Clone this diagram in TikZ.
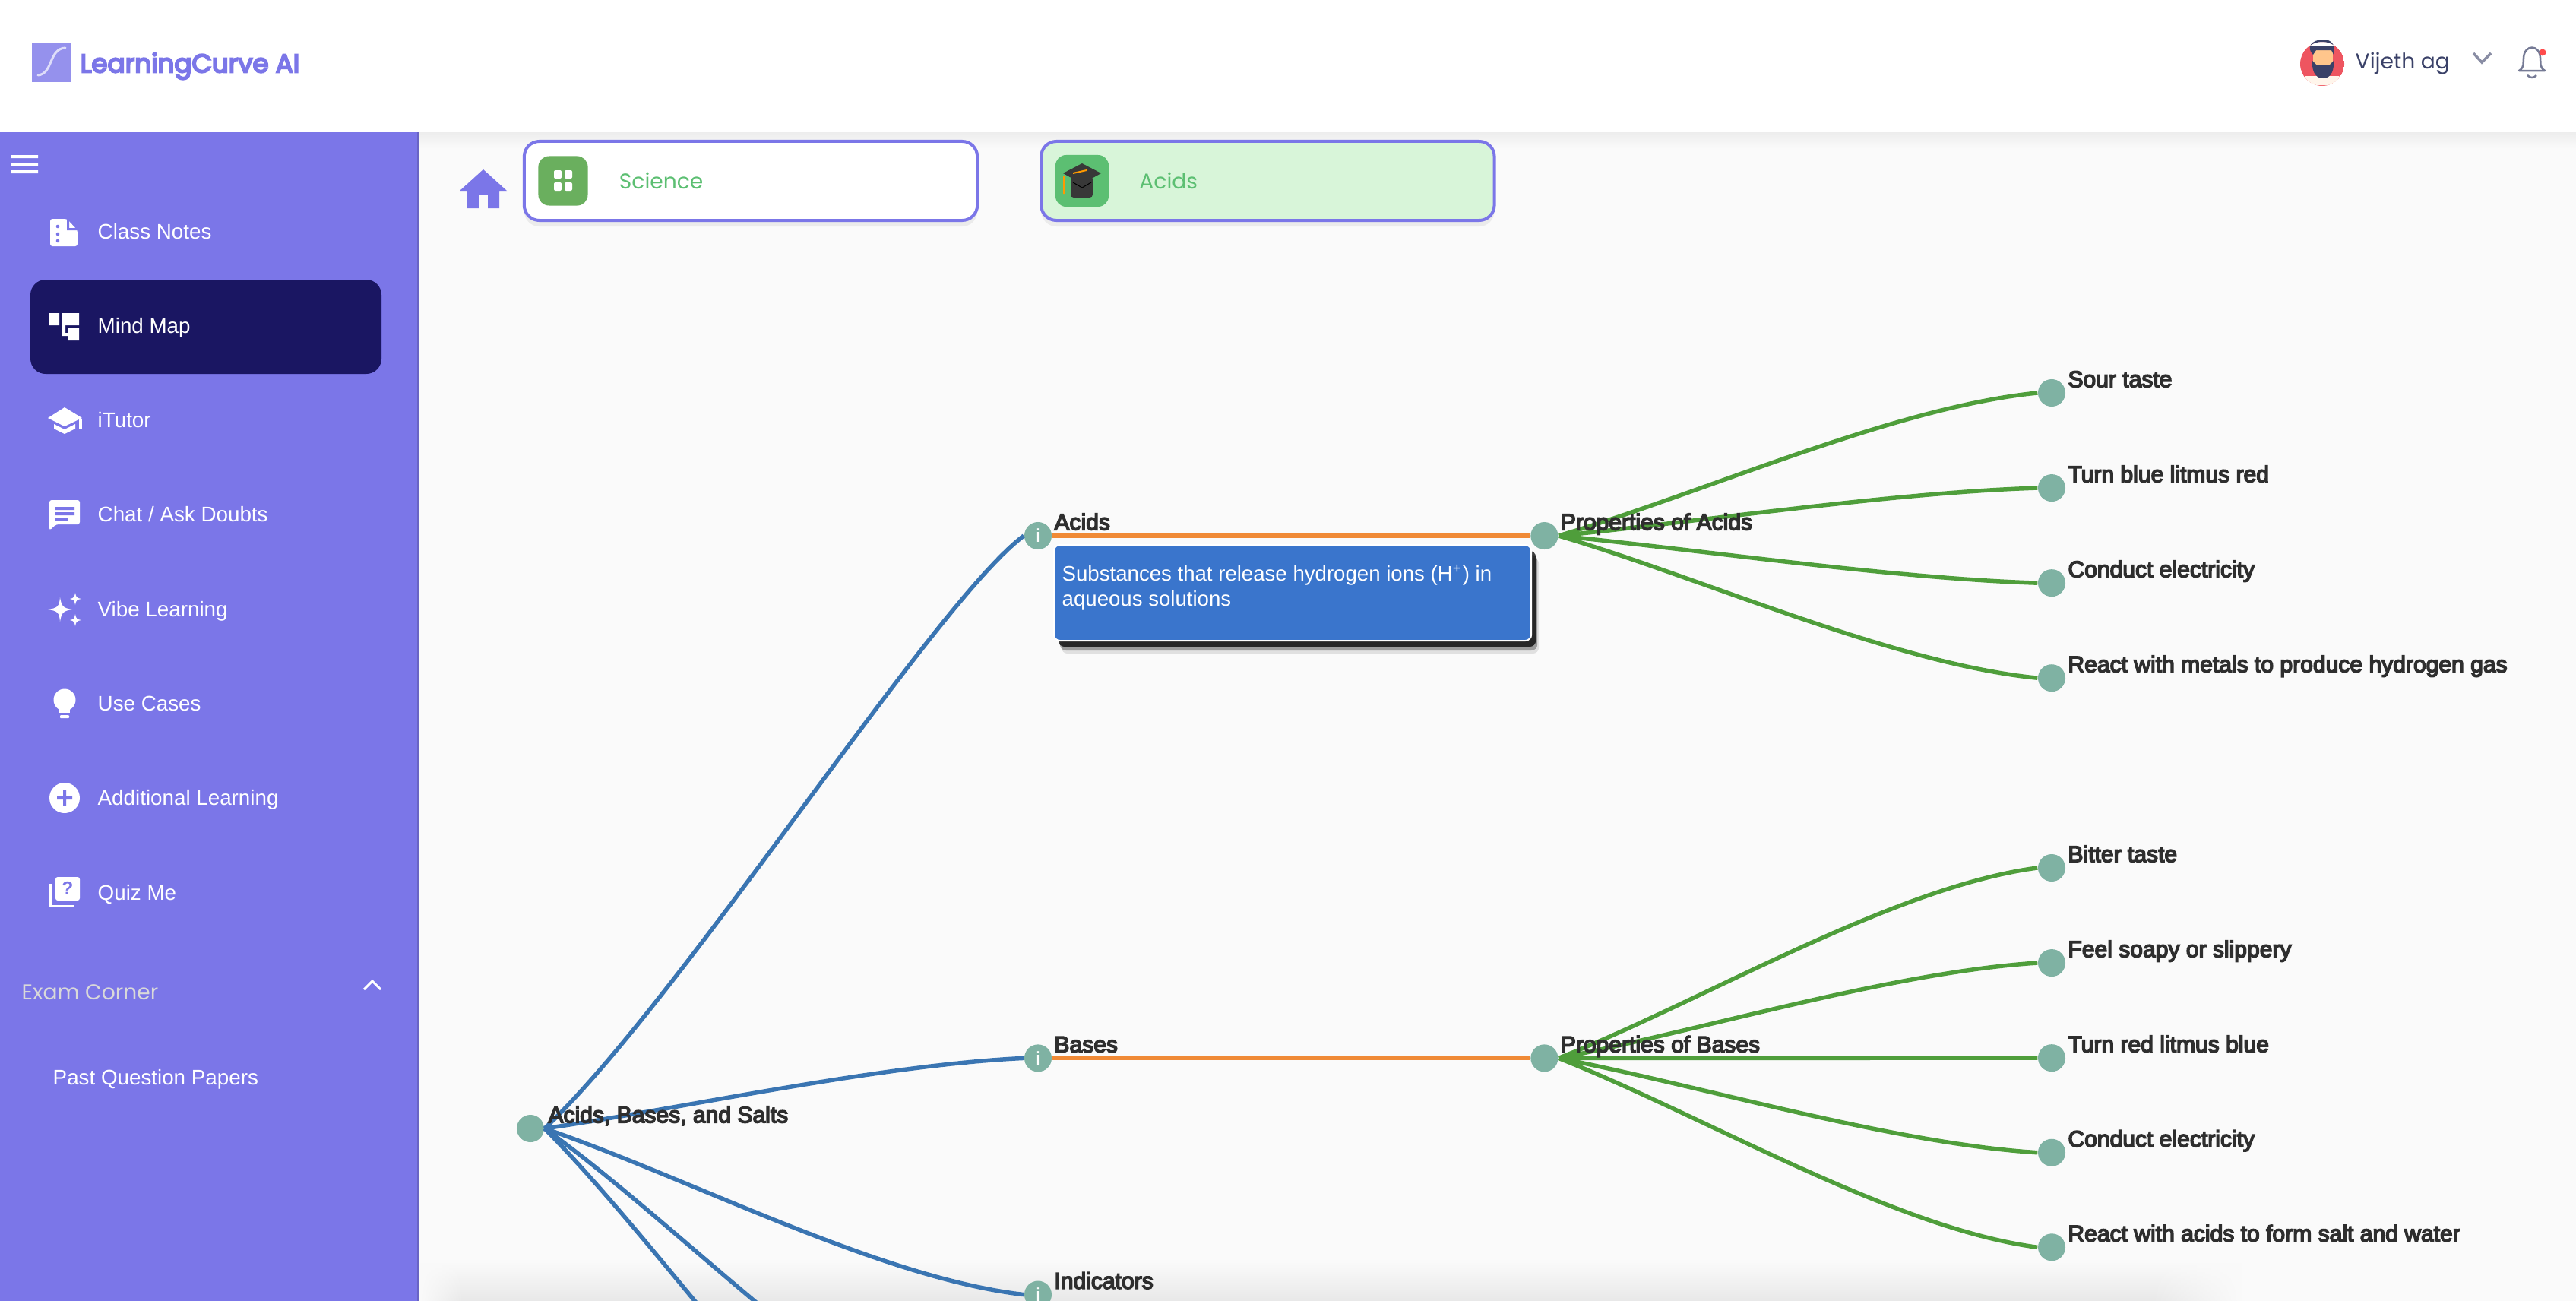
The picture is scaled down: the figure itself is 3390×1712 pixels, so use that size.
\documentclass[tikz,border=0pt]{standalone}
\usepackage{fontspec}
\usepackage{xcolor}
\usepackage{tikz}
\usetikzlibrary{shapes,arrows,positioning,calc,shadows,fadings,arrows.meta}
\setmainfont{Liberation Sans}
\newfontfamily\popfont{Poppins}
\newfontfamily\mapfont[FakeBold=5]{Liberation Sans}
\newfontfamily\menufont{Liberation Sans}
\newfontfamily\brandfont[FakeBold=6]{Poppins}
\definecolor{sidebg}{HTML}{7B76E8}
\definecolor{sidedark}{HTML}{1A1662}
\definecolor{pagebg}{HTML}{FAFAFA}
\definecolor{dotgreen}{HTML}{7FB2A3}
\definecolor{linkblue}{HTML}{3A75B2}
\definecolor{linkorange}{HTML}{F08A36}
\definecolor{linkgreen}{HTML}{4F9E3B}
\definecolor{tipblue}{HTML}{3A75CC}
\definecolor{crumbgreen}{HTML}{5CBF72}
\definecolor{crumbfill}{HTML}{D8F5D9}
\definecolor{scigreen}{HTML}{6AAF5E}
\definecolor{inktext}{HTML}{2E2E2E}
\definecolor{usertext}{HTML}{3A4168}
\definecolor{avatarred}{HTML}{EE5560}
\tikzfading[name=fadetoleft, left color=transparent!0, right color=transparent!100]
\tikzfading[name=fadetoright, left color=transparent!100, right color=transparent!0]

\begin{document}
\begin{tikzpicture}[x=0.01cm, y=-0.01cm,
    dot/.style={circle, fill=dotgreen, minimum size=0.36cm, inner sep=0pt, text=white, font=\fontsize{7}{8}\selectfont\menufont},
    maptext/.style={inner sep=0pt, text depth=0pt, text=inktext, font=\fontsize{8.55}{10}\selectfont\mapfont},
    menutext/.style={inner sep=0pt, anchor=west, text height=0.2cm, text depth=0.05cm, text=white, font=\fontsize{7.9}{9}\selectfont\menufont},
    bluelink/.style={draw=linkblue, line width=0.055cm},
    greenlink/.style={draw=linkgreen, line width=0.055cm},
    orangelink/.style={draw=linkorange, line width=0.055cm},
    crumb/.style={draw=sidebg, line width=0.04cm, rounded corners=0.2cm, minimum width=5.96cm, minimum height=1.04cm,
        drop shadow={shadow xshift=0cm, shadow yshift=-0.08cm, opacity=0.06, fill=black}},
    crumbicon/.style={rounded corners=0.14cm, minimum width=0.65cm, minimum height=0.65cm, inner sep=0pt},
    crumbtext/.style={inner sep=0pt, text=crumbgreen, font=\fontsize{8}{9}\selectfont\popfont},
    icon/.style={fill=white, draw=none}]

    \useasboundingbox (0,0) rectangle (3390,1712);
    \clip (0,0) rectangle (3390,1712);

    \fill [pagebg] (0,0) rectangle (3390,1712);
    \shade [top color=pagebg, bottom color=black!9] (552,1660) rectangle (2950,1712);
    \fill [pagebg, path fading=fadetoleft] (552,1660) rectangle (610,1712);
    \fill [pagebg, path fading=fadetoright] (2830,1660) rectangle (2950,1712);
    \shade [top color=black!7, bottom color=pagebg] (552,174) rectangle (3390,195);
    \fill [white] (0,0) rectangle (3390,174);
    \fill [sidebg] (0,174) rectangle (552,1712);
    \fill [sidebg!85!black] (549,174) rectangle (552,1712);
    \fill [sidedark, rounded corners=0.2cm] (40,368) rectangle (502,492);

    % brand
    \fill [sidebg!80!white] (42,56) rectangle (94,108);
    \draw [white!75!sidebg, line width=0.03cm, line cap=round] (50,99) .. controls (70,97) and (64,64) .. (86,63);
    \node [inner sep=0pt, anchor=west, text=sidebg, font=\fontsize{9.7}{12}\selectfont\brandfont] (brand) at (105,87) {LearningCurve AI};

    % user
    \begin{scope}
        \clip (3056,84) circle (29) (3039,50) rectangle (3073,60);
        \fill [avatarred] (3056,84) circle (29);
        \fill [orange!8!white] (3026,112) -- (3034,100) -- (3078,100) -- (3086,112) -- cycle;
        \fill [orange!45!white] (3044,66) rectangle (3070,92);
        \fill [usertext] (3043,80) .. controls (3042,98) and (3050,103) .. (3057,103) .. controls (3064,103) and (3072,98) .. (3071,80) -- (3066,85) -- (3048,85) -- cycle;
        \fill [usertext] (3044,72) .. controls (3034,62) and (3042,52) .. (3058,52) .. controls (3070,52) and (3074,62) .. (3071,72) -- (3068,66) -- (3048,66) -- cycle;
    \end{scope}
    \node [inner sep=0pt, anchor=west, text=usertext, font=\fontsize{8}{10}\selectfont\popfont] (user) at (3099,84) {Vijeth ag};
    \draw [draw=usertext!60!white, line width=0.035cm] (3255,70) -- (3266,82) -- (3278,70);
    \draw [draw=usertext!70!white, line width=0.025cm, line join=round] (3315,93) .. controls (3323,88) and (3320,82) .. (3321,76) .. controls (3322,58) and (3342,58) .. (3343,76) .. controls (3344,82) and (3341,88) .. (3349,93) -- cycle;
    \draw [draw=usertext!70!white, line width=0.025cm] (3326,99) .. controls (3330,103) and (3334,103) .. (3338,99);
    \fill [red!70!white] (3346,69) circle (4.5);

    % breadcrumbs
    \fill [sidebg] (636,223) -- (667,251) -- (657,251) -- (657,274) -- (642,274) -- (642,256) -- (630,256) -- (630,274) -- (615,274) -- (615,251) -- (605,251) -- cycle;

    \node [crumb, fill=white] (science) at (988,238) {};
    \node [crumb, fill=crumbfill, right of=science, node distance=6.8cm] (acidcrumb) {};
    \node [crumbicon, fill=scigreen, at={(741,238)}] (sciicon) {};
    \node [crumbicon, fill=crumbgreen, at={(1424,238)}, minimum width=0.7cm, minimum height=0.68cm] (acidicon) {};
    \node [crumbtext, anchor=west, right=0.4cm of sciicon] (scitext) {Science};
    \node [crumbtext, anchor=west, right=0.39cm of acidicon] (acidtext) {Acids};
    \fill [white, rounded corners=0.02cm] (729,224) rectangle (739,235) (743,224) rectangle (753,235) (729,240) rectangle (739,251) (743,240) rectangle (753,251);
    \fill [black!78, rounded corners=0.04cm] (1409,232) rectangle (1438,260);
    \fill [black!78] (1424,215) -- (1449,228) -- (1424,242) -- (1399,228) -- cycle;
    \draw [black, line width=0.01cm] (1412,240) -- (1424,247) -- (1436,240);
    \draw [orange!80!yellow, line width=0.02cm] (1412,228) -- (1430,224) (1400,232) -- (1400,255);

    % side menu
    \node [menutext] (notes) at (128,307) {Class Notes};
    \node [menutext, below=1.235cm of notes.west, anchor=west] (mind) {Mind Map};
    \node [menutext, below=1.245cm of mind.west, anchor=west] (tutor) {iTutor};
    \node [menutext, below=1.24cm of tutor.west, anchor=west] (chat) {Chat / Ask Doubts};
    \node [menutext, below=1.25cm of chat.west, anchor=west] (vibe) {Vibe Learning};
    \node [menutext, below=1.24cm of vibe.west, anchor=west] (cases) {Use Cases};
    \node [menutext, below=1.24cm of cases.west, anchor=west] (extra) {Additional Learning};
    \node [menutext, below=1.24cm of extra.west, anchor=west] (quiz) {Quiz Me};
    \node [menutext, text=white!85!black, font=\fontsize{8}{9}\selectfont\popfont] (exam) at (28,1308) {Exam Corner};
    \node [menutext, below=1.12cm of exam.west, anchor=west, xshift=0.41cm] (past) {Past Question Papers};

    \fill [white] (14,204) rectangle (50,208) (14,214) rectangle (50,218) (14,224) rectangle (50,228);
    \draw [white, line width=0.03cm] (479,1302) -- (490,1291) -- (501,1302);

    \fill [icon, rounded corners=0.03cm] (66,288) -- (88,288) -- (102,303) -- (102,324) -- (66,324) -- cycle;
    \fill [sidebg] (88,288) -- (88,303) -- (102,303) -- (102,300) -- (91,300) -- (91,288) -- cycle;
    \fill [sidebg] (76,298) circle (2.3) (76,308) circle (2.3) (76,317) circle (2.3);

    \fill [icon] (64,412) rectangle (78,428) (82,412) rectangle (104,428) (90,432) rectangle (104,448);
    \fill [icon] (82,428) rectangle (86,442) (86,438) rectangle (90,442);

    \fill [icon] (63,550) -- (85,536) -- (108,550) -- (85,561) -- cycle;
    \fill [icon] (71,558) -- (85,565) -- (99,558) -- (99,564) -- (85,571) -- (71,564) -- cycle;
    \fill [icon] (104,552) rectangle (108,564);

    \fill [icon, rounded corners=0.03cm] (65,658) -- (105,658) -- (105,690) -- (74,690) -- (65,698) -- cycle;
    \fill [sidebg] (73,667) rectangle (98,671) (73,674) rectangle (98,678) (73,681) rectangle (89,685);

    \fill [icon] (63,802) .. controls (76,800) and (78,798) .. (79,786) .. controls (81,798) and (83,800) .. (95,802) .. controls (83,804) and (81,806) .. (79,818) .. controls (78,806) and (76,804) .. (63,802) -- cycle;
    \fill [icon] (92,788) .. controls (97,787) and (98,786) .. (99,780) .. controls (100,786) and (101,787) .. (107,788) .. controls (101,789) and (100,790) .. (99,796) .. controls (98,790) and (97,789) .. (92,788) -- cycle;
    \fill [icon] (92,816) .. controls (97,815) and (98,814) .. (99,808) .. controls (100,814) and (101,815) .. (107,816) .. controls (101,817) and (100,818) .. (99,824) .. controls (98,818) and (97,817) .. (92,816) -- cycle;

    \fill [icon] (85,921) circle (14.5);
    \fill [icon] (78,925) rectangle (92,938);
    \fill [icon, rounded corners=0.01cm] (79,941) rectangle (91,945);

    \fill [icon] (85,1050) circle (20);
    \fill [sidebg] (75,1048) rectangle (95,1052) (83,1040) rectangle (87,1060);

    \fill [icon, rounded corners=0.03cm] (73,1154) rectangle (105,1185);
    \draw [white, line width=0.03cm] (66,1163) -- (66,1192) -- (97,1192);
    \node [inner sep=0pt, text=sidebg, font=\fontsize{7}{8}\selectfont\bfseries] (qmark) at (89,1169) {?};

    % mind map nodes
    \node [dot] (root) at (698,1485) {};
    \node [dot] (acids) at (1366,705) {i};
    \node [dot, below of=acids, node distance=6.87cm] (bases) {i};
    \node [dot, below of=bases, node distance=3.11cm] (indic) {i};
    \coordinate (hiddena) at (1349,1937);
    \coordinate (hiddenb) at (1349,2126);

    \node [dot, right of=acids, node distance=6.66cm] (propa) {};
    \node [dot, right of=bases, node distance=6.66cm] (propb) {};

    \node [dot] (sour) at (2700,517) {};
    \node [dot, below of=sour, node distance=1.25cm] (blue) {};
    \node [dot, below of=blue, node distance=1.25cm] (conda) {};
    \node [dot, below of=conda, node distance=1.25cm] (metal) {};

    \node [dot] (bitter) at (2700,1142) {};
    \node [dot, below of=bitter, node distance=1.25cm] (soapy) {};
    \node [dot, below of=soapy, node distance=1.25cm] (red) {};
    \node [dot, below of=red, node distance=1.245cm] (condb) {};
    \node [dot, below of=condb, node distance=1.245cm] (salt) {};

    \draw [bluelink] (root.east) .. controls +(180,-170) and +(-120,90) .. (acids.west);
    \draw [bluelink] (root.east) .. controls +(190,-28) and +(-190,9) .. (bases.west);
    \draw [bluelink] (root.east) .. controls +(190,65) and +(-190,-22) .. (indic.west);
    \draw [bluelink] (root.east) .. controls +(190,136) and +(-190,-45) .. (hiddena);
    \draw [bluelink] (root.east) .. controls +(190,192) and +(-190,-64) .. (hiddenb);

    \draw [orangelink] (acids) -- (propa);
    \draw [orangelink] (bases) -- (propb);

    \draw [greenlink] (propa.east) .. controls +(190,-56) and +(-190,19) .. (sour.west);
    \draw [greenlink] (propa.east) .. controls +(190,-19) and +(-190,6) .. (blue.west);
    \draw [greenlink] (propa.east) .. controls +(190,19) and +(-190,-6) .. (conda.west);
    \draw [greenlink] (propa.east) .. controls +(190,56) and +(-190,-19) .. (metal.west);

    \draw [greenlink] (propb.east) .. controls +(190,-75) and +(-190,25) .. (bitter.west);
    \draw [greenlink] (propb.east) .. controls +(190,-37) and +(-190,12) .. (soapy.west);
    \draw [greenlink] (propb.east) -- (red.west);
    \draw [greenlink] (propb.east) .. controls +(190,37) and +(-190,-12) .. (condb.west);
    \draw [greenlink] (propb.east) .. controls +(190,75) and +(-190,-25) .. (salt.west);

    % mind map texts
    \node [maptext, above right=0.07cm and 0.04cm of root.east] (roottext) {Acids, Bases, and Salts};
    \node [maptext, above right=0.07cm and 0.02cm of acids.east] (acidstext) {Acids};
    \node [maptext, above right=0.07cm and 0.02cm of bases.east] (basestext) {Bases};
    \node [maptext, above right=0.07cm and 0.02cm of indic.east] (indictext) {Indicators};
    \node [maptext, above right=0.07cm and 0.02cm of propa.east] (propatext) {Properties of Acids};
    \node [maptext, above right=0.07cm and 0.02cm of propb.east] (propbtext) {Properties of Bases};
    \node [maptext, above right=0.07cm and 0.02cm of sour.east] (sourtext) {Sour taste};
    \node [maptext, above right=0.07cm and 0.02cm of blue.east] (bluetext) {Turn blue litmus red};
    \node [maptext, above right=0.07cm and 0.02cm of conda.east] (condatext) {Conduct electricity};
    \node [maptext, above right=0.07cm and 0.02cm of metal.east] (metaltext) {React with metals to produce hydrogen gas};
    \node [maptext, above right=0.07cm and 0.02cm of bitter.east] (bittertext) {Bitter taste};
    \node [maptext, above right=0.07cm and 0.02cm of soapy.east] (soapytext) {Feel soapy or slippery};
    \node [maptext, above right=0.07cm and 0.02cm of red.east] (redtext) {Turn red litmus blue};
    \node [maptext, above right=0.07cm and 0.02cm of condb.east] (condbtext) {Conduct electricity};
    \node [maptext, above right=0.07cm and 0.02cm of salt.east] (salttext) {React with acids to form salt and water};

    % hover box
    \node [draw=white, line width=0.02cm, fill=tipblue, rounded corners=0.08cm, minimum width=6.28cm, minimum height=1.26cm,
        drop shadow={shadow xshift=0.1cm, shadow yshift=-0.17cm, opacity=0.1, fill=black},
        drop shadow={shadow xshift=0.08cm, shadow yshift=-0.13cm, opacity=0.3, fill=black},
        drop shadow={shadow xshift=0.06cm, shadow yshift=-0.08cm, opacity=0.75, fill=black}] (tip) at (1701,780) {};
    \node [inner sep=0pt, anchor=north west, align=left, text=white, font=\fontsize{7.85}{9.4}\selectfont\menufont] (tiptext) at (1397,743) {Substances that release hydrogen ions (H\textsuperscript{+}) in\\aqueous solutions};
\end{tikzpicture}
\end{document}
